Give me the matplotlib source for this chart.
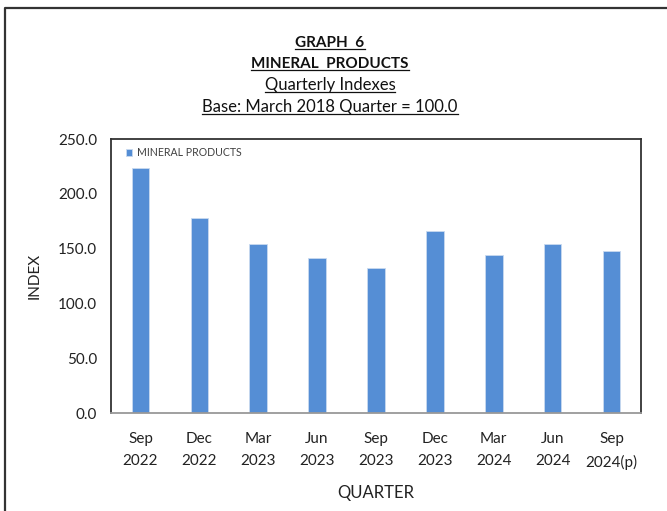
import numpy as np
import matplotlib
matplotlib.use("Agg")
from matplotlib import pyplot as plt
from matplotlib.lines import Line2D

plt.rcParams["font.family"] = ["Lato", "DejaVu Sans"]

# ---------------------------------- DATA ----------------------------------
quarters = ["Sep\n2022", "Dec\n2022", "Mar\n2023", "Jun\n2023", "Sep\n2023",
            "Dec\n2023", "Mar\n2024", "Jun\n2024", "Sep\n2024(p)"]
index_values = [223.4, 177.7, 153.8, 141.7, 132.5, 166.4, 143.8, 153.8, 147.4]
yticks = [0, 50, 100, 150, 200, 250]

W, H = 667, 511
fig = plt.figure(figsize=(W / 100, H / 100), dpi=100)
ax = fig.add_axes([111 / W, 1 - 413 / H, 530 / W, 274 / H])

x = np.arange(len(quarters))
ax.bar(x, index_values, width=0.3, color="#558ED5", edgecolor="#C9DAF0",
       linewidth=0.6, label="MINERAL PRODUCTS")
ax.set_xlim(-0.5, len(quarters) - 0.5)
ax.set_ylim(0, 250)
ax.set_yticks(yticks)
ax.set_yticklabels([f"{v:.1f}" for v in yticks], fontsize=11, color="#222222")
ax.set_xticks(x)
ax.set_xticklabels(quarters, fontsize=11, color="#222222", linespacing=1.7)
ax.tick_params(length=0, pad=10)
ax.tick_params(axis="x", pad=14)
ax.set_xlabel("QUARTER", fontsize=12, color="#222222", labelpad=11)
ax.set_ylabel("INDEX", fontsize=11, color="#222222", labelpad=12)

for side in ["top", "left", "right"]:
    ax.spines[side].set_color("#333333")
    ax.spines[side].set_linewidth(1.3)
ax.spines["bottom"].set_color("#999999")
ax.spines["bottom"].set_linewidth(1.3)

ax.legend(loc="upper left", frameon=False, fontsize=7.6, handlelength=0.6,
          handleheight=0.6, handletextpad=0.5, borderaxespad=0.4,
          labelcolor="#404040", bbox_to_anchor=(0.012, 1.0))

# title block, each line underlined as in the spreadsheet
titles = [("GRAPH  6", 47, "bold", 11), ("MINERAL  PRODUCTS", 68, "bold", 11),
          ("Quarterly Indexes", 90, "normal", 12),
          ("Base: March 2018 Quarter = 100.0", 112, "normal", 12)]
texts = []
for s, ypix, wt, fs in titles:
    t = fig.text(330 / W, 1 - ypix / H, s, ha="center", va="baseline",
                 fontsize=fs, fontweight=wt, color="#111111")
    texts.append((t, ypix))

fig.canvas.draw()
renderer = fig.canvas.get_renderer()
for t, ypix in texts:
    bb = t.get_window_extent(renderer)
    yu = 1 - (ypix + 2) / H
    fig.add_artist(Line2D([bb.x0 / W, bb.x1 / W], [yu, yu], color="#111111",
                          linewidth=0.9, transform=fig.transFigure))

# outer frame of the sheet
fig.add_artist(Line2D([5 / W, 5 / W, 1.0], [0.0, 1 - 8 / H, 1 - 8 / H],
                      color="#333333", linewidth=1.6, transform=fig.transFigure))

fig.savefig("out.png", dpi=100)
